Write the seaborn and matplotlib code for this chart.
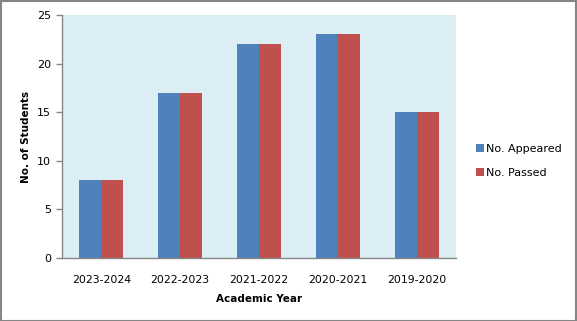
import matplotlib
matplotlib.use("Agg")
import matplotlib.pyplot as plt
import seaborn as sns
import pandas as pd
from matplotlib.patches import Rectangle

years = ["2023-2024", "2022-2023", "2021-2022", "2020-2021", "2019-2020"]
appeared = [8, 17, 22, 23, 15]
passed = [8, 17, 22, 23, 15]
series_names = ["No. Appeared", "No. Passed"]
colors = ["#4F81BD", "#C0504D"]

df = pd.DataFrame({
    "Academic Year": years * 2,
    "Students": appeared + passed,
    "Series": [series_names[0]] * len(years) + [series_names[1]] * len(years),
})

sns.set_theme(style="white")
plt.rcParams["font.family"] = ["DejaVu Sans"]
plt.rcParams["text.color"] = "black"
plt.rcParams["axes.labelcolor"] = "black"

fig = plt.figure(figsize=(5.77, 3.21), dpi=100)
ax = fig.add_axes([62 / 577, 1 - 258 / 321, (456 - 62) / 577, (258 - 15) / 321])

sns.barplot(data=df, x="Academic Year", y="Students", hue="Series",
            palette=colors, width=0.56, gap=0, ax=ax, saturation=1,
            edgecolor="none", linewidth=0)

ax.set_facecolor("#DBEEF4")
ax.set_ylim(0, 25)
ax.set_yticks([0, 5, 10, 15, 20, 25])
ax.set_xlim(-0.5, 4.5)
for s in ["top", "right"]:
    ax.spines[s].set_visible(False)
for s in ["left", "bottom"]:
    ax.spines[s].set_color("#868686")
    ax.spines[s].set_linewidth(1.0)
ax.tick_params(axis="y", which="both", left=True, length=4, width=1,
               color="#868686", labelsize=8, pad=4, labelcolor="black")
ax.tick_params(axis="x", bottom=False, labelsize=7.8, pad=6, labelcolor="black")
ax.set_xlabel("Academic Year", fontsize=7.5, fontweight="bold", labelpad=7, color="black")
ax.set_ylabel("No. of Students", fontsize=7.5, fontweight="bold", labelpad=4, color="black")

leg = ax.legend(loc="center left", bbox_to_anchor=(1.025, 0.40), frameon=False,
                fontsize=8, handlelength=0.75, handleheight=0.75,
                handletextpad=0.2, labelspacing=1.3)
for t in leg.get_texts():
    t.set_color("black")

fig.patches.append(Rectangle((0.5 / 577, 0.5 / 321), 575 / 577, 319.5 / 321,
                             transform=fig.transFigure, fill=False,
                             edgecolor="#868686", linewidth=1.5))

fig.savefig("out.png", dpi=100, facecolor="white")
